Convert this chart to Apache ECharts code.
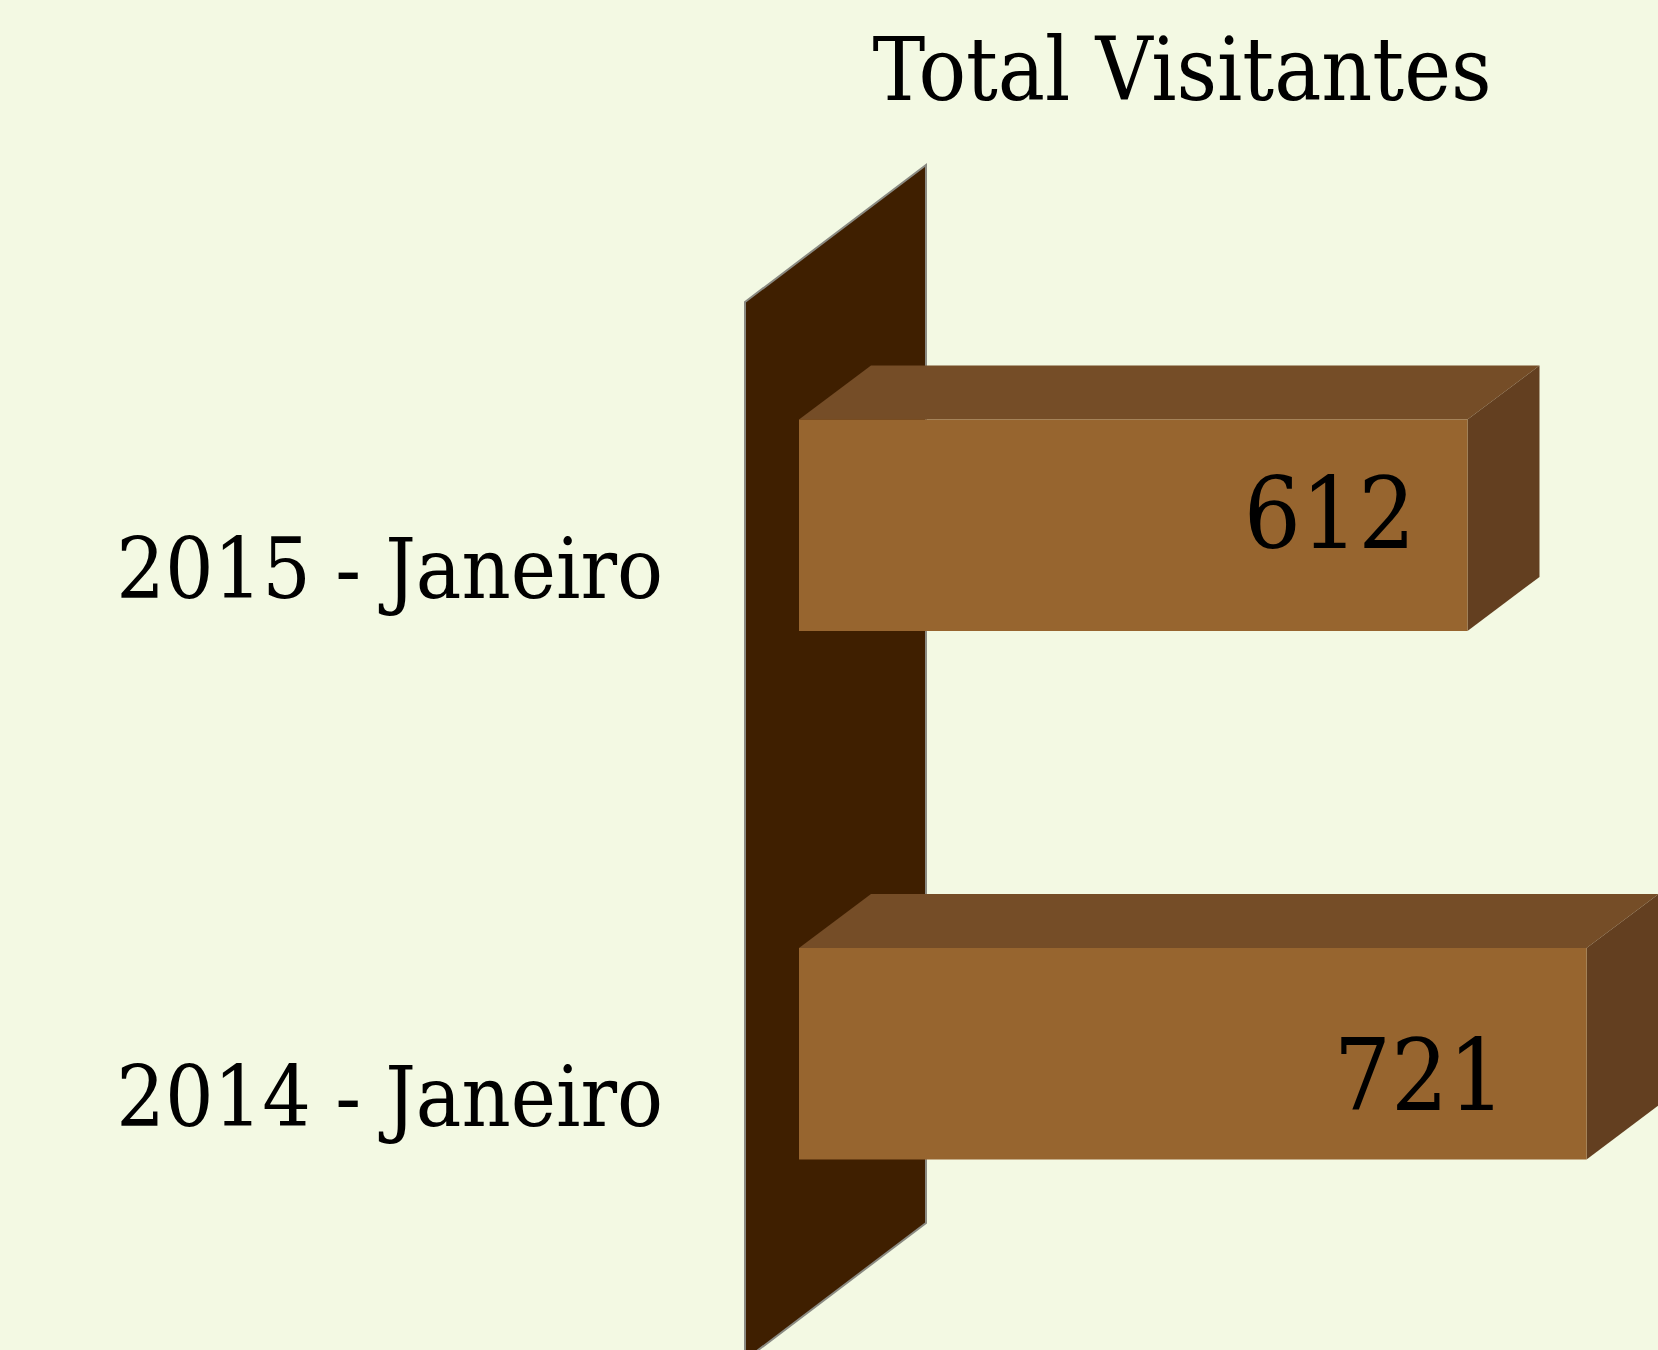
<!DOCTYPE html>
<html>
<head>
<meta charset="utf-8">
<title>Total Visitantes</title>
<script src="https://cdn.jsdelivr.net/npm/echarts@6/dist/echarts.min.js"></script>
<style>
html, body { margin: 0; padding: 0; background: #f3f9e3; }
#chart { width: 1658px; height: 1350px; }
</style>
</head>
<body>
<div id="chart"></div>
<script>
var categories = ['2014 - Janeiro', '2015 - Janeiro'];
var visitantes = [721, 612];

var FONT = '"DejaVu Serif Condensed", "DejaVu Serif", serif';
var DEPTH_X = 72, DEPTH_Y = 54;       // 3d offset of the bars
var labelNudge = [[-81, 22], [-52, -12]]; // value text, relative to bar end

var chart = echarts.init(document.getElementById('chart'), null, { renderer: 'svg' });

/* the dark back wall, placed from the zero of the value axis */
function renderWall(params, api) {
    var zero = api.coord([0, 0])[0];
    var rect = params.coordSys;
    var back = zero + 127, front = zero - 54;
    var top = rect.y - 96, bottom = rect.y + rect.height - 95;
    return {
        type: 'polygon',
        shape: { points: [[front, top + 137], [back, top], [back, bottom], [front, bottom + 137]] },
        style: { fill: '#3f1f00', stroke: '#8a8a82', lineWidth: 2 }
    };
}

function renderBar(params, api) {
    var start = api.coord([0, api.value(1)]);
    var end = api.coord([api.value(0), api.value(1)]);
    var h = api.size([0, 1])[1] * 0.4;
    var x0 = start[0], x1 = end[0], y0 = end[1] - h / 2, y1 = end[1] + h / 2;
    var nudge = labelNudge[params.dataIndex];
    return {
        type: 'group',
        children: [
            { type: 'polygon', shape: { points: [[x0, y0], [x0 + DEPTH_X, y0 - DEPTH_Y], [x1 + DEPTH_X, y0 - DEPTH_Y], [x1, y0]] },
              style: { fill: '#754d27' } },
            { type: 'polygon', shape: { points: [[x1, y0], [x1 + DEPTH_X, y0 - DEPTH_Y], [x1 + DEPTH_X, y1 - DEPTH_Y], [x1, y1]] },
              style: { fill: '#633f20' } },
            { type: 'rect', shape: { x: x0, y: y0, width: x1 - x0, height: h },
              style: { fill: '#97652f' } },
            { type: 'text', x: x1 + nudge[0], y: end[1] + nudge[1],
              style: { text: String(api.value(0)), align: 'right', verticalAlign: 'middle',
                       font: '100px ' + FONT, fill: '#000' } }
        ]
    };
}

var option = {
    backgroundColor: '#f3f9e3',
    animation: false,
    title: {
        text: 'Total Visitantes',
        left: 1177,
        textAlign: 'center',
        top: 20,
        textStyle: { fontSize: 88, fontWeight: 'normal', color: '#000', fontFamily: FONT }
    },
    grid: { left: 799, right: 7, top: 261, bottom: 32 },
    xAxis: { type: 'value', min: 0, max: 780, show: false },
    yAxis: {
        type: 'category',
        data: categories,
        axisLine: { show: false },
        axisTick: { show: false },
        splitLine: { show: false },
        axisLabel: {
            margin: 136,
            verticalAlign: 'top',
            lineHeight: 86,
            fontSize: 85,
            fontFamily: FONT,
            color: '#000'
        }
    },
    series: [
        {
            type: 'custom',
            renderItem: renderWall,
            data: [[0, 0]],
            encode: { x: 0, y: 1 },
            silent: true,
            z: 1
        },
        {
            type: 'custom',
            name: 'Total Visitantes',
            renderItem: renderBar,
            data: visitantes.map(function (v, i) { return [v, i]; }),
            encode: { x: 0, y: 1 },
            z: 2
        }
    ]
};

chart.setOption(option);
</script>
</body>
</html>
